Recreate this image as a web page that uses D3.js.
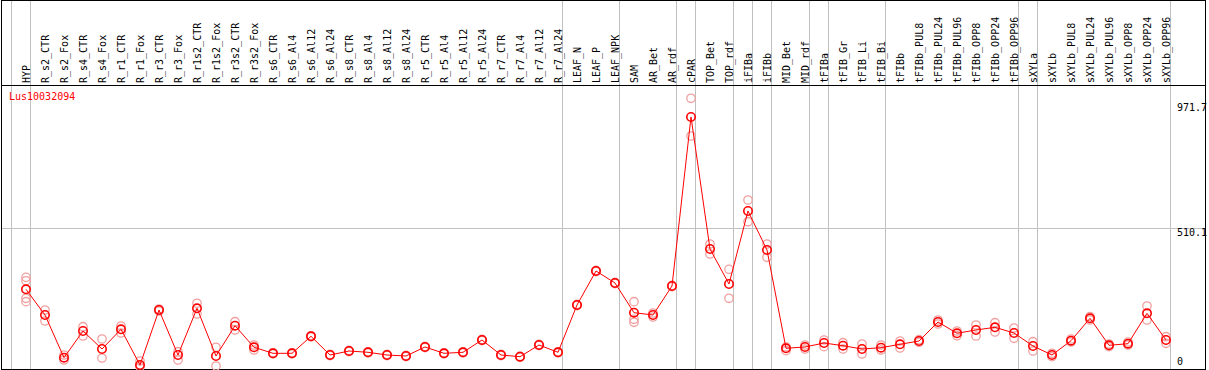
<!DOCTYPE html>
<html>
<head>
<meta charset="utf-8">
<script src="https://cdn.jsdelivr.net/npm/d3@7"></script>
<style>
  body { margin: 0; background: #fff; }
  text { font-family: "DejaVu Sans Mono", monospace; font-size: 10px; }
</style>
</head>
<body>
<div id="chart"></div>
<script>
var geneName = "Lus10032094";

var categories = ["HYP","R_s2_CTR","R_s2_Fox","R_s4_CTR","R_s4_Fox","R_r1_CTR","R_r1_Fox","R_r3_CTR","R_r3_Fox",
  "R_r1s2_CTR","R_r1s2_Fox","R_r3s2_CTR","R_r3s2_Fox","R_s6_CTR","R_s6_Al4","R_s6_Al12","R_s6_Al24",
  "R_s8_CTR","R_s8_Al4","R_s8_Al12","R_s8_Al24","R_r5_CTR","R_r5_Al4","R_r5_Al12","R_r5_Al24",
  "R_r7_CTR","R_r7_Al4","R_r7_Al12","R_r7_Al24","LEAF_N","LEAF_P","LEAF_NPK","SAM","AR_Bet","AR_rdf",
  "cPAR","TOP_Bet","TOP_rdf","iFIBa","iFIBb","MID_Bet","MID_rdf","tFIBa","tFIB_Gr","tFIB_Li","tFIB_Bi",
  "tFIBb","tFIBb_PUL8","tFIBb_PUL24","tFIBb_PUL96","tFIBb_OPP8","tFIBb_OPP24","tFIBb_OPP96",
  "sXYLa","sXYLb","sXYLb_PUL8","sXYLb_PUL24","sXYLb_PUL96","sXYLb_OPP8","sXYLb_OPP24","sXYLb_OPP96"];

// mean expression per sample
var means = [285.8,191.3,34.2,132.4,66.2,138.7,7.4,209.6,44.1,215.9,40.5,151.9,72.5,50.4,50.4,112.9,44.1,
  58.8,54.1,44.1,40.5,73.6,50.4,54.1,99.3,44.1,37.9,80.9,54.1,228.0,353.1,309.0,199.7,191.3,297.9,
  919.5,434.0,305.3,573.8,430.3,68.8,73.6,88.3,78.3,66.2,71.0,83.5,95.6,165.5,124.0,136.1,146.0,125.1,
  77.2,44.1,96.7,179.1,79.8,85.7,197.5,99.3];

// individual replicates
var replicates = [
  [329.8,317.3,252.7,240.2],[209.6,169.2],[44.1,25.7],[148.2,114.0],[103.0,33.1],[150.8,125.1],
  [22.1,1.1],[213.3,206.0],[56.3,25.7],[234.3,194.9],[72.5,3.7],[166.6,136.1],[80.9,62.5],
  [52.4,48.4],[52.4,48.4],[114.9,110.9],[46.1,42.1],[60.8,56.8],[56.1,52.1],[46.1,42.1],[42.5,38.5],
  [75.6,71.6],[52.4,48.4],[56.1,52.1],[101.3,97.3],[46.1,42.1],[39.9,35.9],[82.9,78.9],[56.1,52.1],
  [230.0,226.0],[355.1,351.1],[311.0,307.0],[240.2,175.4,164.4],[198.6,183.9],[299.9,295.9],
  [988.3,849.6],[452.4,415.6],[359.3,252.7],[614.2,534.4],[452.4,403.5],[73.6,60.0],[80.9,66.2],
  [99.3,74.7],[89.4,66.2],[84.6,47.8],[80.9,62.5],[95.6,69.9],[100.4,90.8],[172.9,158.2],[132.4,115.1],
  [154.5,114.0],[162.9,128.7],[143.4,105.6],[93.1,58.8],[50.4,37.9],[103.0,92.0],[185.0,172.9],
  [84.6,74.7],[92.0,80.9],[224.4,172.9],[111.4,87.2]];

// last sample of each tissue group (separator drawn after it)
var groupEnds = ["HYP","R_r7_Al24","LEAF_NPK","AR_rdf","cPAR","TOP_rdf","iFIBa","iFIBb","MID_rdf",
  "tFIBa","tFIB_Bi","tFIBb_OPP96","sXYLa","sXYLb_OPP96"];

var yTicks = [971.7, 510.1, 0];

var width = 1209, height = 370;
var headerBottom = 85.5, plotBottom = 369.5, frameLeft = 1.5, frameRight = 1205;

var svg = d3.select("#chart").append("svg")
    .attr("width", width)
    .attr("height", height);

var x = d3.scalePoint().domain(categories).range([26, 1166]);
var y = d3.scaleLinear().domain([0, 971.7]).range([367, 102.8]);
var step = x.step();

// gridlines
var grid = svg.append("g").attr("shape-rendering", "crispEdges");
grid.append("line")
    .attr("x1", frameLeft).attr("x2", frameRight)
    .attr("y1", Math.round(y(510.1)) + 0.5).attr("y2", Math.round(y(510.1)) + 0.5)
    .attr("stroke", "#c0c0c0");

var seps = [x(categories[0]) - step + 4.5].concat(groupEnds.map(function (c) { return x(c) + 4.5; }));
grid.selectAll(".vsep")
    .data(seps)
    .enter().append("line")
    .attr("class", "vsep")
    .attr("x1", function (d) { return Math.floor(d) + 0.5; })
    .attr("x2", function (d) { return Math.floor(d) + 0.5; })
    .attr("y1", 0).attr("y2", plotBottom)
    .attr("stroke", "#c0c0c0");

// frame
var frame = svg.append("g").attr("shape-rendering", "crispEdges").attr("stroke", "#000");
frame.append("rect")
    .attr("x", frameLeft).attr("y", 0.5)
    .attr("width", frameRight - frameLeft).attr("height", plotBottom - 0.5)
    .attr("fill", "none");
frame.append("line")
    .attr("x1", frameLeft).attr("x2", frameRight)
    .attr("y1", headerBottom).attr("y2", headerBottom);

// column labels
svg.selectAll(".lab")
    .data(categories)
    .enter().append("text")
    .attr("class", "lab")
    .attr("transform", function (d) { return "translate(" + (x(d) + 3.5) + ",83) rotate(-90)"; })
    .attr("fill", "#000")
    .text(function (d) { return d; });

// y labels
svg.selectAll(".ylab")
    .data(yTicks)
    .enter().append("text")
    .attr("class", "ylab")
    .attr("x", 1177)
    .attr("y", function (d) { return d > 0 ? y(d) + 8 : y(d) - 2; })
    .attr("fill", "#000")
    .text(function (d) { return d; });

// redraw right border over the labels
svg.append("line")
    .attr("shape-rendering", "crispEdges")
    .attr("x1", frameRight).attr("x2", frameRight)
    .attr("y1", 0).attr("y2", plotBottom)
    .attr("stroke", "#000");

svg.append("text")
    .attr("x", 9).attr("y", 100)
    .attr("fill", "#ff0000")
    .text(geneName);

// replicate circles
var reps = [];
categories.forEach(function (c, i) {
  replicates[i].forEach(function (v) { reps.push({ c: c, v: v }); });
});
svg.selectAll(".rep")
    .data(reps)
    .enter().append("circle")
    .attr("class", "rep")
    .attr("cx", function (d) { return x(d.c); })
    .attr("cy", function (d) { return y(d.v); })
    .attr("r", 4.2)
    .attr("fill", "none")
    .attr("stroke", "#f0a0a0")
    .attr("stroke-width", 1.3);

// mean line
var line = d3.line()
    .x(function (d, i) { return x(categories[i]); })
    .y(function (d) { return y(d); });

svg.append("path")
    .datum(means)
    .attr("d", line)
    .attr("fill", "none")
    .attr("stroke", "#ff0000")
    .attr("stroke-width", 1);

svg.selectAll(".mean")
    .data(means)
    .enter().append("circle")
    .attr("class", "mean")
    .attr("cx", function (d, i) { return x(categories[i]); })
    .attr("cy", function (d) { return y(d); })
    .attr("r", 4.2)
    .attr("fill", "none")
    .attr("stroke", "#ff0000")
    .attr("stroke-width", 1.6);
</script>
</body>
</html>
